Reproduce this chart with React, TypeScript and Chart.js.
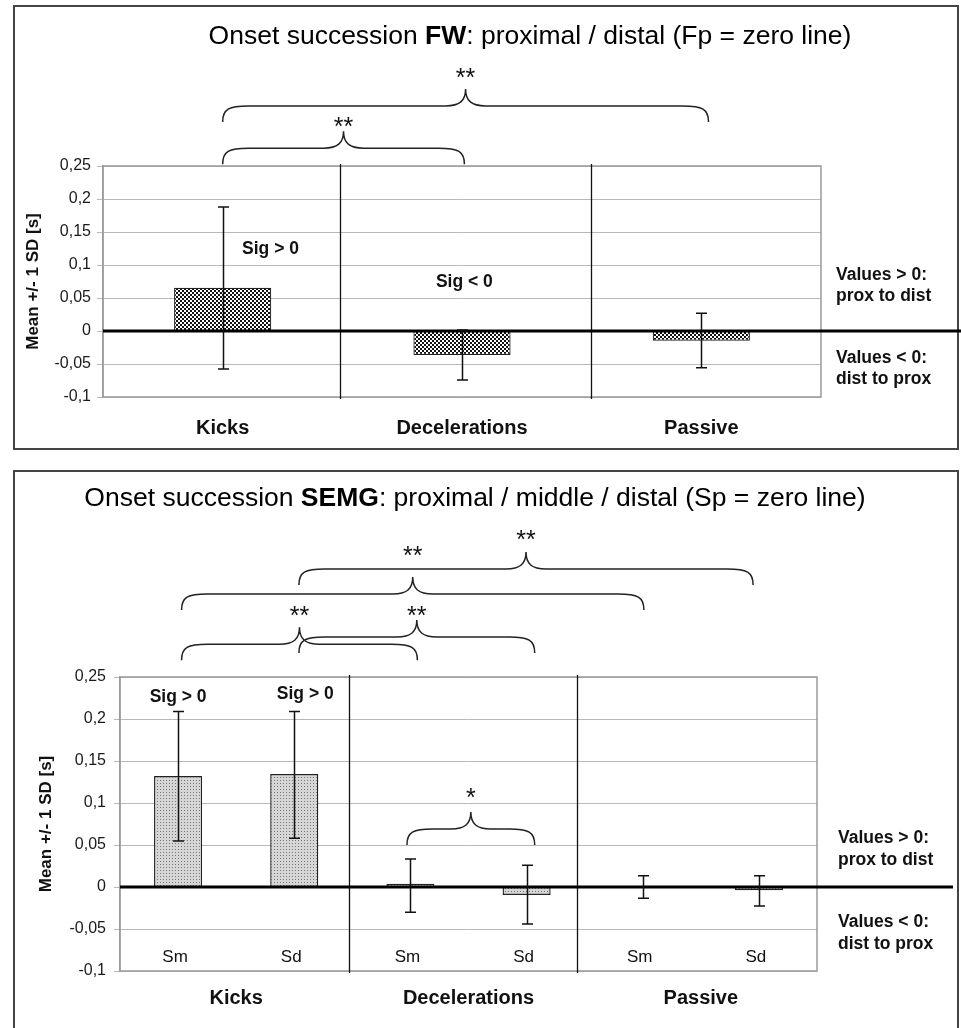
import React, { useEffect, useRef } from 'react';
import { Chart, registerables } from 'chart.js';

Chart.register(...registerables);

const FONT = "'Liberation Sans', Arial, Helvetica, sans-serif";

// ---------- shared y axis ----------
const yTickValues = [-0.1, -0.05, 0, 0.05, 0.1, 0.15, 0.2, 0.25];
const yTickLabels = ['-0,1', '-0,05', '0', '0,05', '0,1', '0,15', '0,2', '0,25'];
const yAxisTitle = 'Mean +/- 1 SD [s]';
const noteUpper = ['Values > 0:', 'prox to dist'];
const noteLower = ['Values < 0:', 'dist to prox'];

// ---------- top chart: FW ----------
const fwTitle = [
  { text: 'Onset succession ', bold: false },
  { text: 'FW', bold: true },
  { text: ': proximal / distal (Fp = zero line)', bold: false },
];
const fwCategories = ['Kicks', 'Decelerations', 'Passive'];
const fwMeans = [0.0655, -0.0364, -0.0147];
const fwUpper = [0.188, 0.0016, 0.0268];
const fwLower = [-0.0576, -0.0744, -0.0555];
const fwSigLabels = [
  { text: 'Sig > 0', x: 0.2, y: 0.124 },
  { text: 'Sig < 0', x: 1.01, y: 0.074 },
];
const fwBraces = [
  { from: 0, to: 2.03, y: 0.341, stars: '**', gap: 16 },
  { from: 0, to: 1.01, y: 0.277, stars: '**', gap: 9.5 },
];
const fwDividers = [0.49, 1.54];
const fwNotes = [
  { lines: noteUpper, y: 0.085 },
  { lines: noteLower, y: -0.041 },
];

// ---------- bottom chart: SEMG ----------
const semgTitle = [
  { text: 'Onset succession ', bold: false },
  { text: 'SEMG', bold: true },
  { text: ': proximal / middle / distal (Sp = zero line)', bold: false },
];
const semgGroups = ['Kicks', 'Decelerations', 'Passive'];
const semgCategories = ['Sm', 'Sd', 'Sm', 'Sd', 'Sm', 'Sd'];
const semgCategoryLabelY = -0.0833;
const semgMeans = [0.132, 0.1345, 0.0038, -0.0095, 0.0005, -0.004];
const semgUpper = [0.209, 0.209, 0.0333, 0.026, 0.0135, 0.0135];
const semgLower = [0.0548, 0.058, -0.03, -0.044, -0.0135, -0.0226];
const semgSigLabels = [
  { text: 'Sig > 0', x: 0.0, y: 0.226 },
  { text: 'Sig > 0', x: 1.095, y: 0.229 },
];
const semgBraces = [
  { from: 0.03, to: 2.06, y: 0.289, stars: '**', gap: 16 },
  { from: 1.04, to: 3.07, y: 0.2976, stars: '**', gap: 9 },
  { from: 0.03, to: 4.01, y: 0.3488, stars: '**', gap: 26 },
  { from: 1.04, to: 4.95, y: 0.3786, stars: '**', gap: 17 },
  { from: 1.97, to: 3.07, y: 0.069, stars: '*', gap: 19 },
];
const semgDividers = [1.474, 3.431];
const semgNotes = [
  { lines: noteUpper, y: 0.058 },
  { lines: noteLower, y: -0.042 },
];

function fmtTick(v: number) {
  const i = yTickValues.findIndex((t) => Math.abs(t - v) < 1e-9);
  return i >= 0 ? yTickLabels[i] : '';
}

function makePattern(kind: 'checker' | 'dots') {
  const c = document.createElement('canvas');
  const g = c.getContext('2d')!;
  if (kind === 'checker') {
    c.width = 4;
    c.height = 4;
    g.fillStyle = '#ffffff';
    g.fillRect(0, 0, 4, 4);
    g.fillStyle = '#111111';
    g.fillRect(0, 0, 2, 2);
    g.fillRect(2, 2, 2, 2);
  } else {
    c.width = 3;
    c.height = 3;
    g.fillStyle = '#d6d6d6';
    g.fillRect(0, 0, 3, 3);
    g.fillStyle = '#777777';
    g.fillRect(1, 1, 1, 1);
  }
  return g.createPattern(c, 'repeat')!;
}

function drawBrace(ctx: CanvasRenderingContext2D, x0: number, x1: number, yh: number) {
  const tip = 16;
  const rise = 17;
  const xc = (x0 + x1) / 2;
  ctx.beginPath();
  ctx.moveTo(x0, yh + tip);
  ctx.bezierCurveTo(x0, yh + 3, x0 + 6, yh, x0 + 26, yh);
  ctx.lineTo(xc - 20, yh);
  ctx.bezierCurveTo(xc - 6, yh, xc, yh - 5, xc, yh - rise);
  ctx.bezierCurveTo(xc, yh - 5, xc + 6, yh, xc + 20, yh);
  ctx.lineTo(x1 - 26, yh);
  ctx.bezierCurveTo(x1 - 6, yh, x1, yh + 3, x1, yh + tip);
  ctx.stroke();
}

type Spec = {
  title: { text: string; bold: boolean }[];
  titleX: number;
  titleY: number;
  sigLabels: { text: string; x: number; y: number }[];
  braces: { from: number; to: number; y: number; stars: string; gap: number }[];
  dividers: number[];
  notes: { lines: string[]; y: number }[];
  noteX: number;
  zeroEnd: number;
  upper: number[];
  lower: number[];
  innerLabels?: { labels: string[]; y: number };
};

function annotPlugin(spec: Spec) {
  return {
    id: 'annot',
    afterDatasetsDraw(chart: any) {
      const { ctx, chartArea: a, scales } = chart;
      const xs = scales.x;
      const ys = scales.y;
      ctx.save();
      // plot frame
      ctx.strokeStyle = '#9a9a9a';
      ctx.lineWidth = 1.5;
      ctx.strokeRect(a.left, a.top, a.right - a.left, a.bottom - a.top);
      // category dividers
      ctx.strokeStyle = '#111';
      ctx.lineWidth = 1.3;
      spec.dividers.forEach((d) => {
        const x = Math.round(xs.getPixelForValue(d)) + 0.5;
        ctx.beginPath();
        ctx.moveTo(x, a.top - 2);
        ctx.lineTo(x, a.bottom + 2);
        ctx.stroke();
      });
      // zero line
      const y0 = ys.getPixelForValue(0);
      ctx.strokeStyle = '#000';
      ctx.lineWidth = 3.2;
      ctx.beginPath();
      ctx.moveTo(a.left, y0);
      ctx.lineTo(spec.zeroEnd, y0);
      ctx.stroke();
      // error bars
      ctx.strokeStyle = '#111';
      ctx.lineWidth = 1.5;
      spec.upper.forEach((u, i) => {
        const x = Math.round(xs.getPixelForValue(i)) + 0.5;
        const yu = ys.getPixelForValue(u);
        const yl = ys.getPixelForValue(spec.lower[i]);
        ctx.beginPath();
        ctx.moveTo(x, yu);
        ctx.lineTo(x, yl);
        ctx.moveTo(x - 5.5, yu);
        ctx.lineTo(x + 5.5, yu);
        ctx.moveTo(x - 5.5, yl);
        ctx.lineTo(x + 5.5, yl);
        ctx.stroke();
      });
      ctx.fillStyle = '#111';
      ctx.textAlign = 'center';
      ctx.textBaseline = 'middle';
      // category labels inside the plot (Sm / Sd)
      if (spec.innerLabels) {
        ctx.font = `17px ${FONT}`;
        const yl = ys.getPixelForValue(spec.innerLabels.y);
        spec.innerLabels.labels.forEach((t, i) => {
          ctx.fillText(t, xs.getPixelForValue(i) - 3, yl);
        });
      }
      // significance labels
      ctx.font = `bold 17.5px ${FONT}`;
      spec.sigLabels.forEach((s) => {
        ctx.fillText(s.text, xs.getPixelForValue(s.x), ys.getPixelForValue(s.y));
      });
      // braces with stars
      ctx.strokeStyle = '#222';
      ctx.lineWidth = 1.5;
      ctx.font = `25px ${FONT}`;
      ctx.textBaseline = 'alphabetic';
      spec.braces.forEach((b) => {
        const x0 = xs.getPixelForValue(b.from);
        const x1 = xs.getPixelForValue(b.to);
        const yh = ys.getPixelForValue(b.y);
        drawBrace(ctx, x0, x1, yh);
        const m = ctx.measureText(b.stars);
        const center = yh - 17 - b.gap;
        const base = center + (m.actualBoundingBoxAscent - m.actualBoundingBoxDescent) / 2;
        ctx.fillText(b.stars, (x0 + x1) / 2, base);
      });
      // notes on the right
      ctx.textAlign = 'left';
      ctx.textBaseline = 'middle';
      ctx.font = `bold 17.5px ${FONT}`;
      spec.notes.forEach((n) => {
        const y = ys.getPixelForValue(n.y);
        n.lines.forEach((line, k) => ctx.fillText(line, spec.noteX, y + k * 21.5));
      });
      // title with mixed weights
      const fontFor = (bold: boolean) => `${bold ? 'bold ' : ''}26.5px ${FONT}`;
      let total = 0;
      spec.title.forEach((seg) => {
        ctx.font = fontFor(seg.bold);
        total += ctx.measureText(seg.text).width;
      });
      let tx = spec.titleX - total / 2;
      ctx.fillStyle = '#000';
      spec.title.forEach((seg) => {
        ctx.font = fontFor(seg.bold);
        ctx.fillText(seg.text, tx, spec.titleY);
        tx += ctx.measureText(seg.text).width;
      });
      ctx.restore();
    },
  };
}

function yScale(chartLeft: number, titleCenter: number, tickPad: number) {
  return {
    min: -0.1,
    max: 0.25,
    ticks: {
      stepSize: 0.05,
      callback: (v: any) => fmtTick(Number(v)),
      font: { family: FONT, size: 16 },
      color: '#1a1a1a',
      padding: tickPad,
    },
    grid: { color: '#b9b9b9', lineWidth: 1, tickLength: 6, drawTicks: true },
    border: { display: true, color: '#9a9a9a', width: 1.5 },
    title: {
      display: true,
      text: yAxisTitle,
      font: { family: FONT, size: 17, weight: 'bold' },
      color: '#111',
      padding: { top: titleCenter - 10.2, bottom: 0 },
    },
    afterFit: (s: any) => {
      s.width = chartLeft;
    },
  };
}

const W = 961;
const TOP_H = 458;
const BOT_H = 570;

export default function App() {
  const topRef = useRef<HTMLCanvasElement>(null);
  const botRef = useRef<HTMLCanvasElement>(null);

  useEffect(() => {
    const checker = makePattern('checker');
    const dots = makePattern('dots');

    const top = new Chart(topRef.current!, {
      type: 'bar',
      data: {
        labels: fwCategories,
        datasets: [
          {
            data: fwMeans,
            backgroundColor: checker,
            borderColor: '#222',
            borderWidth: 1.2,
            barPercentage: 0.406,
            categoryPercentage: 1,
          },
        ],
      },
      options: {
        responsive: false,
        maintainAspectRatio: false,
        animation: false,
        layout: { padding: { top: 166, right: W - 821, left: 0, bottom: 0 } },
        plugins: { legend: { display: false }, tooltip: { enabled: false } },
        scales: {
          x: {
            type: 'category',
            offset: true,
            grid: { display: false, drawTicks: false },
            border: { display: false },
            ticks: {
              font: { family: FONT, size: 20, weight: 'bold' },
              color: '#111',
              padding: 19,
              autoSkip: false,
              maxRotation: 0,
            },
            afterFit: (s: any) => {
              s.height = TOP_H - 397;
            },
          },
          y: yScale(103, 33, 6) as any,
        },
      },
      plugins: [
        annotPlugin({
          title: fwTitle,
          titleX: 530,
          titleY: 37,
          sigLabels: fwSigLabels,
          braces: fwBraces,
          dividers: fwDividers,
          notes: fwNotes,
          noteX: 836,
          zeroEnd: W,
          upper: fwUpper,
          lower: fwLower,
        }),
      ],
    } as any);

    const botTop = 677 - TOP_H;
    const botBottom = 971 - TOP_H;
    const bottom = new Chart(botRef.current!, {
      type: 'bar',
      data: {
        labels: semgCategories,
        datasets: [
          {
            data: semgMeans,
            backgroundColor: dots,
            borderColor: '#222',
            borderWidth: 1.4,
            barPercentage: 0.414,
            categoryPercentage: 1,
          },
        ],
      },
      options: {
        responsive: false,
        maintainAspectRatio: false,
        animation: false,
        layout: { padding: { top: botTop, right: W - 817, left: 0, bottom: 0 } },
        plugins: { legend: { display: false }, tooltip: { enabled: false } },
        scales: {
          x: {
            type: 'category',
            weight: 0,
            offset: true,
            grid: { display: false, drawTicks: false },
            border: { display: false },
            ticks: { display: false },
            afterFit: (s: any) => {
              s.height = 0;
            },
          },
          x2: {
            type: 'category',
            labels: semgGroups,
            position: 'bottom',
            weight: 1,
            offset: true,
            grid: { display: false, drawTicks: false },
            border: { display: false },
            ticks: {
              font: { family: FONT, size: 20, weight: 'bold' },
              color: '#111',
              padding: 15,
              autoSkip: false,
              maxRotation: 0,
            },
            afterFit: (s: any) => {
              s.height = BOT_H - botBottom;
            },
          },
          y: yScale(120, 46, 8) as any,
        },
      },
      plugins: [
        annotPlugin({
          title: semgTitle,
          titleX: 475,
          titleY: 499 - TOP_H,
          sigLabels: semgSigLabels,
          braces: semgBraces,
          dividers: semgDividers,
          notes: semgNotes,
          noteX: 838,
          zeroEnd: 953,
          upper: semgUpper,
          lower: semgLower,
          innerLabels: { labels: semgCategories, y: semgCategoryLabelY },
        }),
      ],
    } as any);

    return () => {
      top.destroy();
      bottom.destroy();
    };
  }, []);

  return (
    <div
      style={{
        position: 'absolute',
        left: 0,
        top: 0,
        width: W,
        height: 1028,
        background: '#fff',
        overflow: 'hidden',
      }}
    >
      <div
        style={{
          position: 'absolute',
          left: 13,
          top: 5,
          width: 946,
          height: 445,
          border: '2px solid #444',
          boxSizing: 'border-box',
        }}
      />
      <div
        style={{
          position: 'absolute',
          left: 13,
          top: 470,
          width: 946,
          height: 600,
          border: '2px solid #444',
          boxSizing: 'border-box',
        }}
      />
      <canvas
        ref={topRef}
        width={W}
        height={TOP_H}
        style={{ position: 'absolute', left: 0, top: 0, width: W, height: TOP_H }}
      />
      <canvas
        ref={botRef}
        width={W}
        height={BOT_H}
        style={{ position: 'absolute', left: 0, top: TOP_H, width: W, height: BOT_H }}
      />
    </div>
  );
}
